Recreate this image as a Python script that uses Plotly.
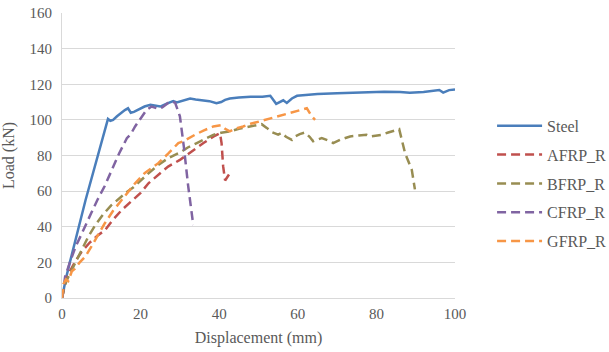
import plotly.graph_objects as go

steel_x = [0, 0.5, 1, 2, 3, 4, 5, 6, 7, 8, 9, 10, 11, 11.7, 12.3, 13, 14, 15, 16, 16.8, 17.5, 18.3, 19.5, 21, 22.5, 24, 25, 26.5, 28.3, 29.2, 30.5, 32.6, 34, 36, 37.5, 39.3, 40.5, 41.5, 42.7, 45, 48, 51, 53, 54.5, 55.5, 56.3, 57.2, 58.5, 59.8, 62, 65, 70, 75, 78.4, 82, 86, 88.5, 92, 96, 97, 98.5, 100]
steel_y = [0, 6, 11, 20, 29, 38, 46, 55, 63, 71, 79, 87, 95, 100.5, 99.5, 100, 102, 104, 105.5, 106.5, 104, 104.5, 106, 107.5, 108.5, 108, 107.5, 109, 110.5, 109.8, 110.5, 112, 111.5, 111, 110.5, 109.3, 110, 111.2, 112, 112.5, 113, 113, 113.5, 109, 110, 111, 109.5, 112, 113.5, 114, 114.5, 115, 115.3, 115.7, 115.8, 115.7, 115.2, 115.6, 116.8, 115.3, 116.7, 117]

afrp_x = [0, 0.5, 1, 2, 3.5, 5, 7, 9, 10.9, 13, 15.2, 18, 20, 22, 24.5, 27, 30, 32.1, 33.4, 36, 38.5, 40.2, 40.6, 41, 41.5, 41.9, 42.7]
afrp_y = [0, 5, 10, 15, 21, 26, 31, 35, 38, 44, 49.4, 55, 59, 64.4, 69, 73.8, 77.5, 81, 83, 87, 90.6, 92.5, 87, 74, 66, 67.2, 70]

bfrp_x = [0, 0.5, 1.2, 2.5, 4, 5.5, 6.7, 8.5, 10.5, 12.5, 14.5, 16.5, 18.1, 20, 22, 24.5, 27, 30.4, 32, 34.3, 36, 38.5, 40.5, 42.7, 45, 48, 50.8, 52.1, 53.5, 55, 55.9, 57, 58.5, 59.3, 60.5, 61.8, 63, 63.9, 66.1, 68.2, 69, 71, 73.3, 75.5, 77.5, 78.4, 81.3, 83, 85.8, 87.3, 89, 89.8]
bfrp_y = [0, 5, 10, 16, 23, 29, 34.5, 41, 47, 52, 56, 59.5, 62, 66, 70, 74.7, 78.5, 82.2, 84.5, 87, 89, 91.6, 92.8, 93.5, 95, 96.5, 97.6, 95.5, 93, 91.7, 92.7, 90.5, 88.8, 90.7, 92, 92.9, 90.5, 88, 89.8, 88, 87, 89, 90.7, 91.2, 91.6, 90.7, 91.6, 92.9, 94.8, 81.3, 72, 61]

cfrp_x = [0, 0.4, 0.8, 2, 3.5, 5, 5.9, 7.5, 9, 10.9, 12.5, 14.5, 16.5, 17.5, 18.6, 20, 21.5, 22.8, 24.5, 25.5, 27, 27.9, 28.8, 30, 31, 32.1, 33.4]
cfrp_y = [0, 6, 12, 20, 29, 36, 40, 48, 55, 63, 71, 81, 89.7, 92, 96.3, 101, 105.5, 107.5, 106.2, 107, 109.5, 110.4, 109.5, 102, 85, 63, 41]

gfrp_x = [0, 0.4, 1, 1.6, 2.5, 3.3, 4.5, 5.9, 7.5, 9, 10.9, 13, 15.5, 18.6, 21, 24.5, 27, 29.6, 30.9, 32, 33.8, 36, 38.5, 40.5, 41.5, 42.7, 44, 46.1, 48, 50.4, 53, 55.5, 57.5, 59.7, 62.3, 63.6, 64.4]
gfrp_y = [0, 8, 10.5, 9.5, 15, 16.5, 20, 23.2, 29, 35, 42, 49, 56, 64.4, 70, 75.7, 81, 87, 88, 89.5, 91.6, 94, 96.3, 97, 95, 93.5, 95, 96.3, 97.8, 99.2, 100.8, 102.3, 103.7, 105, 106.5, 101.9, 100]

series = [
    ("Steel", steel_x, steel_y, "#4a7ebb", "solid"),
    ("AFRP_R", afrp_x, afrp_y, "#c0504d", "9px,5px"),
    ("BFRP_R", bfrp_x, bfrp_y, "#988d52", "9px,5px"),
    ("CFRP_R", cfrp_x, cfrp_y, "#8064a2", "9px,5px"),
    ("GFRP_R", gfrp_x, gfrp_y, "#f79646", "9px,5px"),
]

fig = go.Figure()
for name, xs, ys, col, dash in series:
    fig.add_trace(go.Scatter(x=xs, y=ys, mode="lines", name=name, legendgroup=name,
                             line=dict(color=col, width=2.5, dash=dash)))

font = "Liberation Serif"
tfont = dict(family=font, size=15, color="#595959")
fig.update_layout(
    width=609, height=352,
    margin=dict(l=62, r=154, t=13, b=54, autoexpand=False),
    paper_bgcolor="white", plot_bgcolor="white",
    font=dict(family=font, size=15, color="#595959"),
    showlegend=True,
    legend=dict(xref="container", x=0.808, xanchor="left", yref="container", y=0.479, yanchor="middle",
                font=dict(family=font, size=16, color="#595959"),
                traceorder="grouped", tracegroupgap=5, itemwidth=45, bgcolor="rgba(0,0,0,0)"),
    xaxis=dict(range=[0, 100], dtick=20, showgrid=False, zeroline=False, automargin=False,
               showline=True, linecolor="#d9d9d9", linewidth=1, ticks="", tickfont=tfont,
               ticklabelstandoff=2,
               title=dict(text="Displacement (mm)", font=dict(family=font, size=16, color="#595959"), standoff=10)),
    yaxis=dict(range=[0, 160], dtick=20, showgrid=True, gridcolor="#d9d9d9", gridwidth=1, automargin=False,
               zeroline=False, showline=True, linecolor="#d9d9d9", linewidth=1, ticks="", tickfont=tfont,
               ticklabelstandoff=6,
               title=dict(text="Load (kN)", font=dict(family=font, size=16, color="#595959"), standoff=10)),
)

fig.write_html("out.html")
